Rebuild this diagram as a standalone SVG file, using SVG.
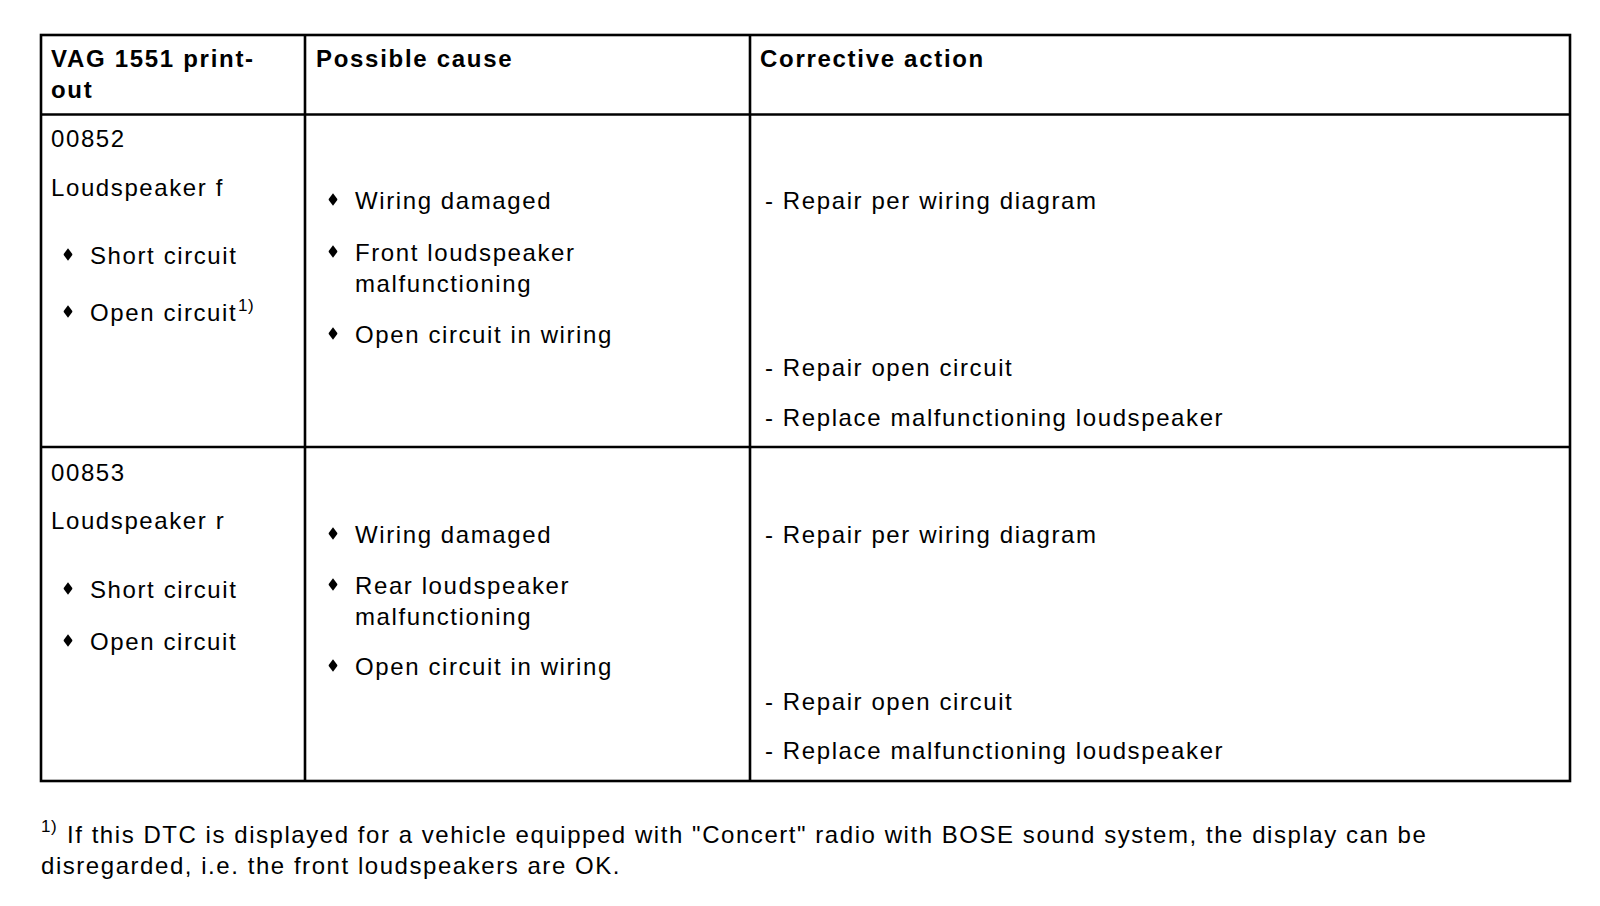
<svg xmlns="http://www.w3.org/2000/svg" width="1600" height="906" viewBox="0 0 1600 906">
<defs>
<style>
.t{font-family:"Liberation Sans",Arial,sans-serif;font-size:24px;letter-spacing:1.6px;fill:#000}
.f{font-family:"Liberation Sans",Arial,sans-serif;font-size:24px;letter-spacing:1.55px;fill:#000}
.h{font-family:"Liberation Sans",Arial,sans-serif;font-size:24px;font-weight:bold;letter-spacing:1.7px;fill:#000}
.s{font-family:"Liberation Sans",Arial,sans-serif;font-size:17px;letter-spacing:0.6px;fill:#000}
.ln{stroke:#000;stroke-width:2.6;fill:none}
</style>
<path id="d" d="M0,-6.3 L4.3,-0.5 L4.3,0.5 L0,6.3 L-4.3,0.5 L-4.3,-0.5 Z" fill="#000"/>
</defs>
<rect width="1600" height="906" fill="#fff"/>
<g id="grid">
<rect class="ln" x="41" y="35" width="1529" height="746"/>
<line class="ln" x1="305" y1="35" x2="305" y2="781"/>
<line class="ln" x1="750" y1="35" x2="750" y2="781"/>
<line class="ln" x1="41" y1="114.5" x2="1570" y2="114.5"/>
<line class="ln" x1="41" y1="447" x2="1570" y2="447"/>
</g>
<g id="header">
<text class="h" x="51" y="67">VAG 1551 print-</text>
<text class="h" x="51" y="97.5">out</text>
<text class="h" x="316" y="67">Possible cause</text>
<text class="h" x="760" y="67">Corrective action</text>
</g>
<g id="row1">
<text class="t" x="51" y="147">00852</text>
<text class="t" x="51" y="196">Loudspeaker f</text>
<use href="#d" x="68" y="254.5"/>
<text class="t" x="90" y="264">Short circuit</text>
<use href="#d" x="68" y="311.5"/>
<text class="t" x="90" y="321">Open circuit</text>
<text class="s" x="238" y="311">1)</text>
<use href="#d" x="333" y="199.5"/>
<text class="t" x="355" y="209">Wiring damaged</text>
<use href="#d" x="333" y="251.5"/>
<text class="t" x="355" y="261">Front loudspeaker</text>
<text class="t" x="355" y="292">malfunctioning</text>
<use href="#d" x="333" y="333.5"/>
<text class="t" x="355" y="343">Open circuit in wiring</text>
<text class="t" x="765" y="209">- Repair per wiring diagram</text>
<text class="t" x="765" y="376">- Repair open circuit</text>
<text class="t" x="765" y="426">- Replace malfunctioning loudspeaker</text>
</g>
<g id="row2">
<text class="t" x="51" y="481">00853</text>
<text class="t" x="51" y="529">Loudspeaker r</text>
<use href="#d" x="68" y="588.5"/>
<text class="t" x="90" y="598">Short circuit</text>
<use href="#d" x="68" y="640.5"/>
<text class="t" x="90" y="650">Open circuit</text>
<use href="#d" x="333" y="533.5"/>
<text class="t" x="355" y="543">Wiring damaged</text>
<use href="#d" x="333" y="584.5"/>
<text class="t" x="355" y="594">Rear loudspeaker</text>
<text class="t" x="355" y="625">malfunctioning</text>
<use href="#d" x="333" y="665.5"/>
<text class="t" x="355" y="675">Open circuit in wiring</text>
<text class="t" x="765" y="543">- Repair per wiring diagram</text>
<text class="t" x="765" y="710">- Repair open circuit</text>
<text class="t" x="765" y="759">- Replace malfunctioning loudspeaker</text>
</g>
<g id="footnote">
<text class="s" x="41" y="832">1)</text>
<text class="f" x="67" y="843">If this DTC is displayed for a vehicle equipped with "Concert" radio with BOSE sound system, the display can be</text>
<text class="f" x="41" y="874">disregarded, i.e. the front loudspeakers are OK.</text>
</g>
</svg>
